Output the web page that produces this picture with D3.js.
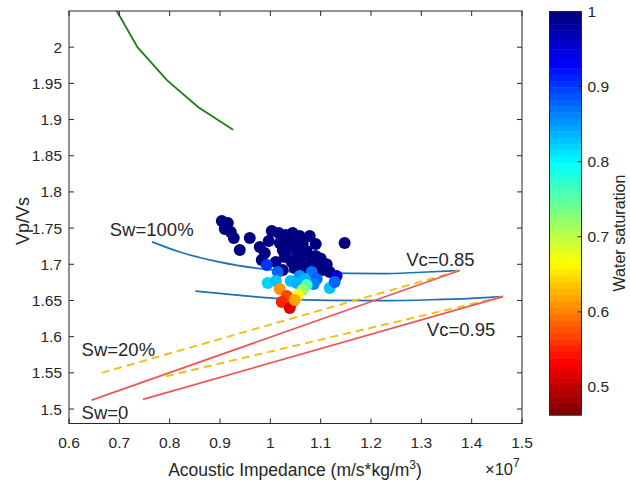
<!DOCTYPE html>
<html>
<head>
<meta charset="utf-8">
<script src="https://cdn.jsdelivr.net/npm/d3@7"></script>
<style>
  body { margin: 0; background: #fff; }
  svg text { font-family: "Liberation Sans", Arial, Helvetica, sans-serif; fill: #262626; }
</style>
</head>
<body>
<svg id="chart" width="630" height="481"></svg>
<script>
// tick labels
const xTicks = [0.6, 0.7, 0.8, 0.9, 1, 1.1, 1.2, 1.3, 1.4, 1.5];
const yTicks = [1.5, 1.55, 1.6, 1.65, 1.7, 1.75, 1.8, 1.85, 1.9, 1.95, 2];
const cbTicks = [0.5, 0.6, 0.7, 0.8, 0.9, 1];

// dry-rock trend (green)
const greenAI = [0.686, 0.695, 0.736, 0.795, 0.857, 0.926];
const greenVpVs = [2.06, 2.05, 2.0, 1.954, 1.917, 1.886];

// Sw=100% curves for Vc=0.85 and Vc=0.95 (blue)
const vc85AI = [0.765, 0.82, 0.9, 0.98, 1.1, 1.22, 1.3, 1.376];
const vc85VpVs = [1.731, 1.717, 1.703, 1.694, 1.688, 1.687, 1.689, 1.6914];
const vc95AI = [0.851, 0.94, 1.02, 1.12, 1.22, 1.32, 1.4, 1.462];
const vc95VpVs = [1.663, 1.657, 1.6525, 1.650, 1.6497, 1.651, 1.653, 1.6553];

// Sw=0 lines (red) and Sw=20% lines (yellow dashed)
const sw0AI = [[0.645, 1.376], [0.747, 1.462]];
const sw0VpVs = [[1.5124, 1.6914], [1.5134, 1.6553]];
const sw20AI = [[0.665, 1.376], [0.7925, 1.462]];
const sw20VpVs = [[1.55, 1.6914], [1.5453, 1.6553]];

// well log samples
const ptAI = [1.0385,
  0.9036, 0.9155, 0.9095, 0.9214, 0.9274, 0.9591, 0.9393, 0.9790, 0.9889, 0.9829,
  1.0028, 1.0167, 1.0306, 1.0444, 1.0583, 1.0385, 1.0504, 1.0187, 1.0246, 1.0643,
  1.0722, 1.0901, 1.0286, 1.0425, 1.0603, 1.0841, 1.0940, 1.0484, 1.0702, 1.0246,
  1.1040, 1.1179, 1.1476, 1.0107, 1.0782, 1.0544, 1.0345, 0.9968, 1.0901, 1.1317,
  1.0660, 1.0820, 1.1000, 1.1120,
  0.9929, 1.0147, 1.0583, 1.0821, 1.0921, 0.9948, 1.0107, 1.0405, 1.0524, 1.0683,
  1.0861, 1.1179, 1.1278, 1.0722, 1.0643, 1.0544, 1.0187, 1.0325, 1.0226, 1.0425,
  1.0385, 1.0484];
const ptVpVs = [1.7087,
  1.7598, 1.7570, 1.7488, 1.7446, 1.7363, 1.7363, 1.7197, 1.7239, 1.7156, 1.7059,
  1.7460, 1.7432, 1.7405, 1.7432, 1.7391, 1.7308, 1.7267, 1.7294, 1.7197, 1.7294,
  1.7184, 1.7280, 1.7101, 1.7032, 1.7059, 1.7059, 1.6990, 1.6949, 1.6949, 1.6921,
  1.6921, 1.6894, 1.7294, 1.7032, 1.7391, 1.7170, 1.7225, 1.7322, 1.7115, 1.6838,
  1.7120, 1.7000, 1.7080, 1.7000,
  1.6990, 1.6894, 1.6838, 1.6894, 1.6797, 1.6742, 1.6769, 1.6769, 1.6742, 1.6797,
  1.6728, 1.6673, 1.6756, 1.6714, 1.6645, 1.6576, 1.6659, 1.6562, 1.6479, 1.6465,
  1.6396, 1.6507];
const ptSw = [0.92,
  1, 1, 1, 1, 1, 1, 1, 1, 1, 1,
  1, 1, 1, 1, 1, 1, 1, 1, 1, 1,
  1, 1, 1, 1, 1, 1, 1, 1, 1, 1,
  1, 1, 1, 1, 1, 1, 1, 1, 1, 0.95,
  1, 1, 1, 1,
  0.90, 0.88, 0.85, 0.87, 0.88, 0.82, 0.83, 0.83, 0.84, 0.84,
  0.86, 0.83, 0.88, 0.76, 0.72, 0.67, 0.61, 0.57, 0.55, 0.56,
  0.52, 0.62];

// curve labels
const noteText = ["Sw=100%", "Sw=20%", "Sw=0", "Vc=0.85", "Vc=0.95"];
const noteAI = [0.681, 0.625, 0.625, 1.270, 1.311];
const noteVpVs = [1.739, 1.5733, 1.4863, 1.697, 1.601];

const plot = { left: 69, right: 522, top: 11, bottom: 423.5 };
const cb = { left: 549.5, right: 581.5, top: 11.5, bottom: 415 };
const swMin = 0.4627, swMax = 1;

const svg = d3.select("#chart");

const x = d3.scaleLinear().domain([0.6, 1.5]).range([plot.left, plot.right]);
const y = d3.scaleLinear().domain([1.48, 2.05]).range([plot.bottom, plot.top]);
const cScale = d3.scaleLinear().domain([swMin, swMax]).range([cb.bottom, cb.top]);

// reversed MATLAB jet, 64 levels (high Sw = dark blue)
function jet(t) {
  const n = 64;
  t = Math.max(0, Math.min(1, t));
  const k = Math.min(n - 1, Math.floor(t * n)) / (n - 1);
  const c = v => Math.round(255 * Math.max(0, Math.min(1, v)));
  return `rgb(${c(1.5 - Math.abs(4 * k - 3))},${c(1.5 - Math.abs(4 * k - 2))},${c(1.5 - Math.abs(4 * k - 1))})`;
}
const swColor = v => jet(1 - (v - swMin) / (swMax - swMin));

svg.append("clipPath").attr("id", "clip")
  .append("rect")
  .attr("x", plot.left).attr("y", plot.top)
  .attr("width", plot.right - plot.left).attr("height", plot.bottom - plot.top);

const g = svg.append("g").attr("clip-path", "url(#clip)");
const line = d3.line().x(d => x(d[0])).y(d => y(d[1]));

g.append("path")
  .datum(greenAI.map((v, i) => [v, greenVpVs[i]]))
  .attr("d", line).attr("fill", "none").attr("stroke", "#1b7d1b").attr("stroke-width", 1.8);

[[vc85AI, vc85VpVs], [vc95AI, vc95VpVs]].forEach(([a, b]) => {
  g.append("path")
    .datum(a.map((v, i) => [v, b[i]]))
    .attr("d", d3.line().curve(d3.curveMonotoneX).x(d => x(d[0])).y(d => y(d[1])))
    .attr("fill", "none").attr("stroke", "#1f6fb6").attr("stroke-width", 1.7);
});

sw20AI.forEach((a, k) => {
  g.append("path")
    .datum(a.map((v, i) => [v, sw20VpVs[k][i]]))
    .attr("d", line).attr("fill", "none").attr("stroke", "#f2c01e")
    .attr("stroke-width", 2).attr("stroke-dasharray", "8,5");
});
sw0AI.forEach((a, k) => {
  g.append("path")
    .datum(a.map((v, i) => [v, sw0VpVs[k][i]]))
    .attr("d", line).attr("fill", "none").attr("stroke", "#ef5656").attr("stroke-width", 1.8);
});

g.selectAll(".pt")
  .data(ptAI.map((v, i) => ({ ai: v, r: ptVpVs[i], sw: ptSw[i] })))
  .enter().append("circle")
  .attr("class", "pt")
  .attr("cx", d => x(d.ai))
  .attr("cy", d => y(d.r))
  .attr("r", 6)
  .attr("fill", d => swColor(d.sw));

svg.selectAll(".note")
  .data(noteText)
  .enter().append("text")
  .attr("class", "note")
  .attr("x", (d, i) => x(noteAI[i]))
  .attr("y", (d, i) => y(noteVpVs[i]))
  .attr("font-size", 18.5)
  .text(d => d);

// axes box with inward ticks on all sides
const axisColor = "#262626";
const tl = 5;
const axes = svg.append("g").attr("stroke", axisColor).attr("stroke-width", 1);
axes.append("rect")
  .attr("x", plot.left).attr("y", plot.top)
  .attr("width", plot.right - plot.left).attr("height", plot.bottom - plot.top)
  .attr("fill", "none");
xTicks.forEach(t => {
  axes.append("line").attr("x1", x(t)).attr("x2", x(t)).attr("y1", plot.bottom).attr("y2", plot.bottom - tl);
  axes.append("line").attr("x1", x(t)).attr("x2", x(t)).attr("y1", plot.top).attr("y2", plot.top + tl);
});
yTicks.forEach(t => {
  axes.append("line").attr("y1", y(t)).attr("y2", y(t)).attr("x1", plot.left).attr("x2", plot.left + tl);
  axes.append("line").attr("y1", y(t)).attr("y2", y(t)).attr("x1", plot.right).attr("x2", plot.right - tl);
});

svg.selectAll(".xt")
  .data(xTicks).enter().append("text")
  .attr("x", d => x(d)).attr("y", 447.5)
  .attr("text-anchor", "middle").attr("font-size", 15.5)
  .text(d => String(d));
svg.selectAll(".yt")
  .data(yTicks).enter().append("text")
  .attr("x", plot.left - 7).attr("y", d => y(d) + 5.5)
  .attr("text-anchor", "end").attr("font-size", 15.5)
  .text(d => String(d));

const xl = svg.append("text")
  .attr("x", 295).attr("y", 476)
  .attr("text-anchor", "middle").attr("font-size", 17.5);
xl.append("tspan").text("Acoustic Impedance (m/s*kg/m");
xl.append("tspan").attr("dy", -7).attr("font-size", 12).text("3");
xl.append("tspan").attr("dy", 7).text(")");

const mult = svg.append("text").attr("x", 485).attr("y", 475).attr("font-size", 16.5);
mult.append("tspan").text("×10");
mult.append("tspan").attr("dy", -8).attr("font-size", 12).text("7");

svg.append("text")
  .attr("transform", "translate(29,221) rotate(-90)")
  .attr("text-anchor", "middle").attr("font-size", 18)
  .text("Vp/Vs");

// colorbar
const levels = d3.range(64);
const cbG = svg.append("g");
cbG.selectAll("rect")
  .data(levels).enter().append("rect")
  .attr("x", cb.left)
  .attr("width", cb.right - cb.left)
  .attr("y", i => cb.top + i * (cb.bottom - cb.top) / 64)
  .attr("height", (cb.bottom - cb.top) / 64 + 0.5)
  .attr("fill", i => jet(i / 63));
cbG.append("rect")
  .attr("x", cb.left).attr("y", cb.top)
  .attr("width", cb.right - cb.left).attr("height", cb.bottom - cb.top)
  .attr("fill", "none").attr("stroke", axisColor);
cbTicks.forEach(t => {
  cbG.append("line").attr("x1", cb.right).attr("x2", cb.right - 4)
    .attr("y1", cScale(t)).attr("y2", cScale(t)).attr("stroke", axisColor);
});
svg.selectAll(".ct")
  .data(cbTicks).enter().append("text")
  .attr("x", cb.right + 6).attr("y", d => cScale(d) + 5.5)
  .attr("font-size", 15.5)
  .text(d => String(d));
svg.append("text")
  .attr("transform", "translate(625,233) rotate(-90)")
  .attr("text-anchor", "middle").attr("font-size", 16)
  .text("Water saturation");
</script>
</body>
</html>
